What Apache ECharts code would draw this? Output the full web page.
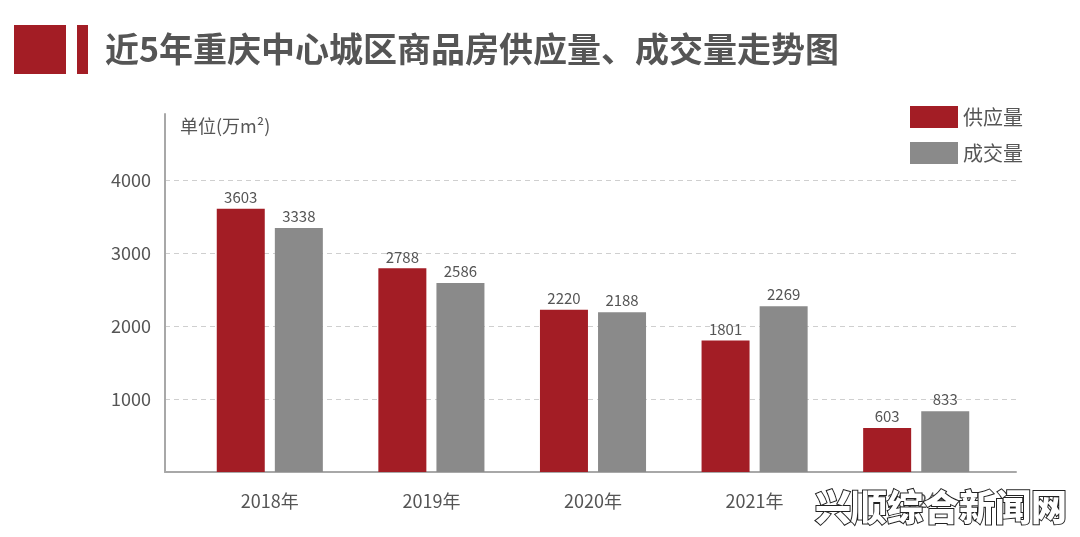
<!DOCTYPE html>
<html>
<head>
<meta charset="utf-8">
<script src="https://cdn.jsdelivr.net/npm/echarts@6/dist/echarts.min.js"></script>
<style>
html,body{margin:0;padding:0;background:#fff;}
#chart{width:1080px;height:537px;}
</style>
</head>
<body>
<div id="chart"></div>
<script>
const categories = ['2018年', '2019年', '2020年', '2021年', '2022年'];
const supply = [3603, 2788, 2220, 1801, 603];
const deal = [3338, 2586, 2188, 2269, 833];
const seriesNames = ['供应量', '成交量'];
const titleText = '近5年重庆中心城区商品房供应量、成交量走势图';
const unitText = '单位(万m²)';
const watermarkText = '兴顺综合新闻网';

const FONT = '"Noto Sans CJK SC", "Noto Sans", sans-serif';
const RED = '#a31d25';
const GRAY = '#8a8a8a';
const TXT = '#555555';

const chart = echarts.init(document.getElementById('chart'));
chart.setOption({
  backgroundColor: '#ffffff',
  textStyle: { fontFamily: FONT },
  animation: false,
  grid: [
    { left: 189, right: 83, top: 114, bottom: 65 },
    { left: 165, right: 64, top: 114, bottom: 65 }
  ],
  xAxis: [
    {
      type: 'category', gridIndex: 0, data: categories,
      axisLine: { show: false }, axisTick: { show: false },
      axisLabel: { fontSize: 18, color: TXT, margin: 20, fontFamily: FONT }
    },
    {
      type: 'value', gridIndex: 1, min: 0, max: 1,
      axisLine: { show: true, lineStyle: { color: '#a8a8a8', width: 2 } },
      axisTick: { show: false }, axisLabel: { show: false }, splitLine: { show: false }
    }
  ],
  yAxis: [
    { type: 'value', gridIndex: 0, min: 0, max: 4900, show: false, splitLine: { show: false } },
    {
      type: 'value', gridIndex: 1, min: 0, max: 4900, interval: 1000,
      axisLine: { show: true, lineStyle: { color: '#a8a8a8', width: 2 } },
      axisTick: { show: false },
      axisLabel: { fontSize: 18, color: TXT, margin: 14, showMinLabel: false, showMaxLabel: false, fontFamily: FONT, formatter: v => String(v) },
      splitLine: { show: true, showMinLine: false, showMaxLine: false, lineStyle: { color: '#cfcfcf', type: [5, 4], width: 1 } }
    }
  ],
  legend: {
    orient: 'vertical', left: 910, top: 106, padding: 0, itemWidth: 48, itemHeight: 22, itemGap: 14,
    icon: 'rect',
    textStyle: { fontSize: 20, color: TXT, fontFamily: FONT },
    data: seriesNames
  },
  series: [
    {
      name: seriesNames[0], type: 'bar', xAxisIndex: 0, yAxisIndex: 0,
      data: supply, barWidth: 48, barGap: '21%',
      itemStyle: { color: RED },
      label: { show: true, position: 'top', distance: 4, fontSize: 15, color: TXT, fontFamily: FONT }
    },
    {
      name: seriesNames[1], type: 'bar', xAxisIndex: 0, yAxisIndex: 0,
      data: deal, barWidth: 48, barGap: '21%',
      itemStyle: { color: GRAY },
      label: { show: true, position: 'top', distance: 4, fontSize: 15, color: TXT, fontFamily: FONT }
    }
  ],
  graphic: [
    { type: 'rect', shape: { x: 14, y: 25, width: 52, height: 49 }, style: { fill: RED } },
    { type: 'rect', shape: { x: 77, y: 25, width: 11, height: 49 }, style: { fill: RED } },
    {
      type: 'text', x: 105, y: 49,
      style: { text: titleText, font: 'bold 34px ' + FONT, fill: '#555555', verticalAlign: 'middle', textAlign: 'left' }
    },
    {
      type: 'text', x: 180, y: 126,
      style: { text: unitText, font: '18px ' + FONT, fill: TXT, verticalAlign: 'middle', textAlign: 'left' }
    },
    {
      type: 'text', x: 815, y: 507, z: 100,
      style: { text: watermarkText, font: '900 36px ' + FONT, fill: '#ffffff', stroke: '#222222', lineWidth: 2, verticalAlign: 'middle', textAlign: 'left' }
    }
  ]
});
</script>
</body>
</html>
